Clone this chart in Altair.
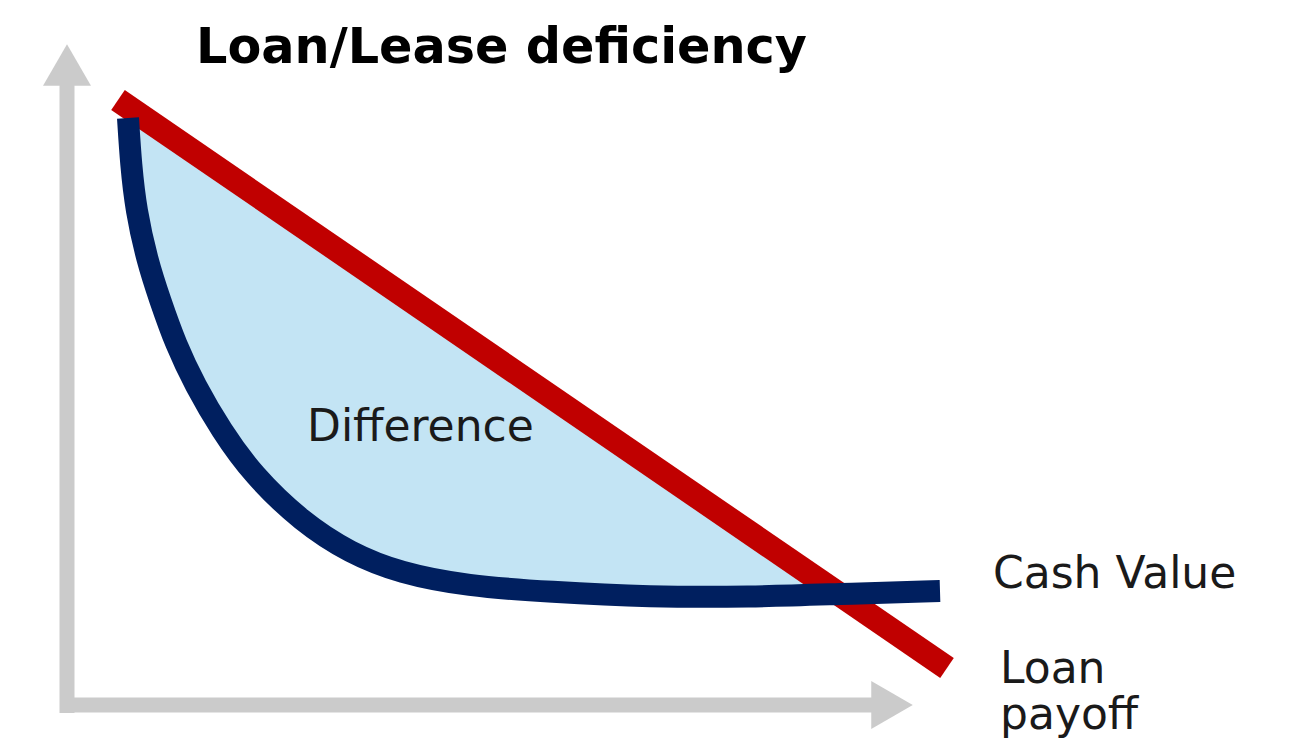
import altair as alt
import pandas as pd

# Diagram units: origin at the corner of the two axes, one unit = one pixel
# Cash value curve (navy)
cash_x = [61, 64, 69, 80, 93, 109, 128, 154, 186, 235, 283, 333, 400, 483, 583, 683, 771, 873]
cash_y = [587, 540, 495, 445, 405, 360, 320, 275, 230, 183, 152, 132, 119, 113, 108, 108, 111, 114]

# Loan payoff line (red)
loan_x = [51, 880]
loan_y = [605, 37]

# Shaded difference: between the cash value curve and the loan payoff line
diff_x = [61, 64, 69, 80, 93, 109, 128, 154, 186, 235, 283, 333, 400, 483, 583, 683, 771]
diff_low = [587, 540, 495, 445, 405, 360, 320, 275, 230, 183, 152, 132, 119, 113, 108, 108, 111]
diff_high = [598.1, 596.1, 592.7, 585.1, 576.2, 565.3, 552.2, 534.4, 512.5, 478.9, 446.0,
             411.8, 365.9, 309.0, 240.5, 172.0, 111.7]

# Axis arrows
axis_x = [0, -7]
axis_y = [-8, 0]
axis_x2 = [0, 805]
axis_y2 = [620, 0]
head_x = [0, 825]
head_y = [640, 0]
head_shape = ["triangle-up", "triangle-right"]

# Text labels
title_text = ["Loan/Lease deficiency"]
title_x = [129]
title_y = [642]
label_text = ["Difference", "Cash Value", "Loan", "payoff"]
label_x = [240, 926, 933, 933]
label_y = [264, 117, 22, -24]

W, H = 1273, 738
xs = alt.Scale(domain=[-59, 1214], nice=False, zero=False)
ys = alt.Scale(domain=[-41, 697], nice=False, zero=False)

GRAY = "#CBCBCB"
RED = "#C00000"
NAVY = "#001F5F"
FILL = "#C3E4F4"

cash_df = pd.DataFrame({"x": cash_x, "y": cash_y})
loan_df = pd.DataFrame({"x": loan_x, "y": loan_y})
diff_df = pd.DataFrame({"x": diff_x, "lo": diff_low, "hi": diff_high})
axis_df = pd.DataFrame({"x": axis_x, "y": axis_y, "x2": axis_x2, "y2": axis_y2})
head_df = pd.DataFrame({"x": head_x, "y": head_y, "shape": head_shape})
title_df = pd.DataFrame({"x": title_x, "y": title_y, "t": title_text})
label_df = pd.DataFrame({"x": label_x, "y": label_y, "t": label_text})

X = lambda f="x": alt.X(f"{f}:Q", scale=xs, axis=None)
Y = lambda f="y": alt.Y(f"{f}:Q", scale=ys, axis=None)

axes = alt.Chart(axis_df).mark_rule(color=GRAY, strokeWidth=15).encode(
    x=X(), y=Y(), x2="x2:Q", y2="y2:Q"
)
heads = alt.Chart(head_df).mark_point(filled=True, color=GRAY, opacity=1, size=2300).encode(
    x=X(), y=Y(), shape=alt.Shape("shape:N", scale=None, legend=None)
)
area = alt.Chart(diff_df).mark_area(color=FILL, interpolate="basis", opacity=1).encode(
    x=X(), y=Y("lo"), y2="hi:Q"
)
loan = alt.Chart(loan_df).mark_line(color=RED, strokeWidth=24, strokeCap="butt").encode(
    x=X(), y=Y()
)
cash = alt.Chart(cash_df).mark_line(color=NAVY, strokeWidth=22, strokeCap="butt",
                                    interpolate="basis").encode(x=X(), y=Y())
title = alt.Chart(title_df).mark_text(
    align="left", baseline="alphabetic", font="DejaVu Sans", fontSize=49.3,
    fontWeight="bold", color="#000000"
).encode(x=X(), y=Y(), text="t:N")
labels = alt.Chart(label_df).mark_text(
    align="left", baseline="alphabetic", font="DejaVu Sans", fontSize=44, color="#1A1A1A"
).encode(x=X(), y=Y(), text="t:N")

chart = alt.layer(axes, heads, area, loan, cash, title, labels).properties(
    width=W, height=H, autosize=alt.AutoSizeParams(type="none"), padding=0
).configure_view(stroke=None)

chart.save("out.html", embed_options={"renderer": "svg", "actions": False})
